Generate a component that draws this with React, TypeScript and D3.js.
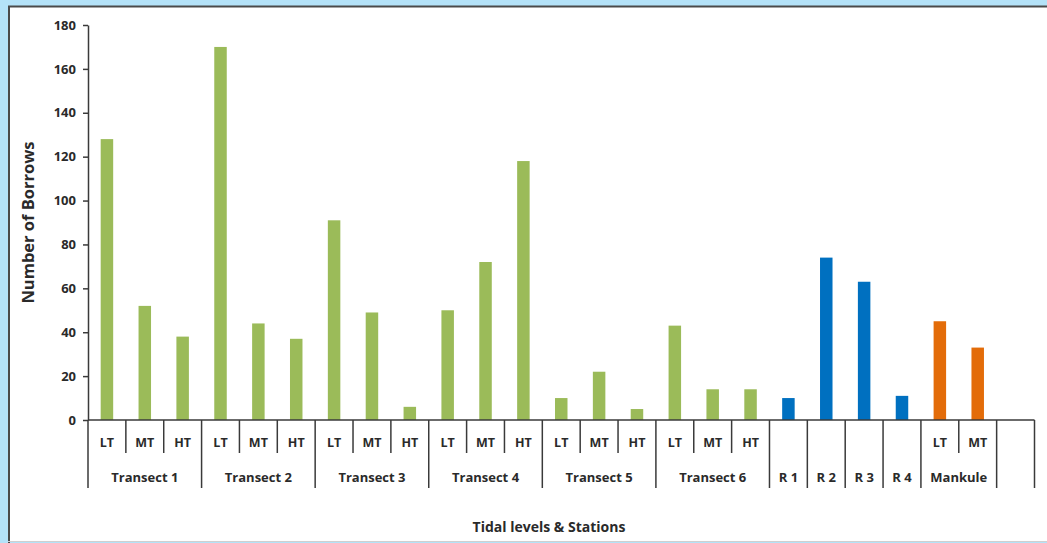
import { useEffect, useRef } from "react";
import * as d3 from "d3";

// station groups along the x axis (last one is the empty slot at the end)
const groups = [
  "Transect 1",
  "Transect 2",
  "Transect 3",
  "Transect 4",
  "Transect 5",
  "Transect 6",
  "R 1",
  "R 2",
  "R 3",
  "R 4",
  "Mankule",
  "",
];

const tidal = ["LT", "MT", "HT"];

// tidal levels inside each group
const groupLevels = [
  tidal,
  tidal,
  tidal,
  tidal,
  tidal,
  tidal,
  [""],
  [""],
  [""],
  [""],
  ["LT", "MT"],
  [""],
];

// kind of station, decides the bar colour
const groupKind = [
  "transect",
  "transect",
  "transect",
  "transect",
  "transect",
  "transect",
  "reference",
  "reference",
  "reference",
  "reference",
  "mankule",
  "none",
];

// number of burrows, one value per slot
const burrows = [
  128, 52, 38,
  170, 44, 37,
  91, 49, 6,
  50, 72, 118,
  10, 22, 5,
  43, 14, 14,
  10, 74, 63, 11,
  45, 33,
  null,
];

const yTicks = [0, 20, 40, 60, 80, 100, 120, 140, 160, 180];

const kindColor: Record<string, string> = {
  transect: "#9bbb59",
  reference: "#0070c0",
  mankule: "#e36c09",
  none: "none",
};

const W = 1047;
const H = 543;
const font = "'Open Sans', Lato, sans-serif";
const ink = "#2a2a2a";

export default function App() {
  const svgRef = useRef<SVGSVGElement>(null);

  useEffect(() => {
    if (!svgRef.current) return;
    const svg = d3.select(svgRef.current);
    svg.selectAll("*").remove();

    // page background and white panel
    svg.append("rect").attr("width", W).attr("height", H).attr("fill", "#b4e2f8");
    svg
      .append("rect")
      .attr("x", 8)
      .attr("y", 6)
      .attr("width", W)
      .attr("height", 535)
      .attr("fill", "#ffffff");
    svg
      .append("path")
      .attr("d", `M9,${H} V6.5 H${W}`)
      .attr("fill", "none")
      .attr("stroke", "#4a4a4a")
      .attr("stroke-width", 2);
    svg
      .append("line")
      .attr("x1", 8)
      .attr("x2", W)
      .attr("y1", 541.5)
      .attr("y2", 541.5)
      .attr("stroke", "#d0d0d0");

    const left = 88;
    const right = 1034.5;
    const top = 25;
    const bottom = 420;

    // flatten slots
    const slots: { key: string; gi: number; li: number; level: string; value: number | null; kind: string }[] = [];
    let k = 0;
    groups.forEach((g, gi) => {
      groupLevels[gi].forEach((level, li) => {
        slots.push({ key: `${gi}-${li}`, gi, li, level, value: burrows[k], kind: groupKind[gi] });
        k++;
      });
    });

    const x = d3
      .scaleBand()
      .domain(slots.map((s) => s.key))
      .range([left, right])
      .paddingInner(0.67)
      .paddingOuter(0.335);
    const step = x.step();
    const bw = x.bandwidth();
    const center = (key: string) => (x(key) as number) + bw / 2;

    const y = d3.scaleLinear().domain([0, 180]).range([bottom, top]);

    // bars
    svg
      .append("g")
      .selectAll("rect")
      .data(slots.filter((s) => s.value != null))
      .enter()
      .append("rect")
      .attr("x", (d) => x(d.key) as number)
      .attr("width", bw)
      .attr("y", (d) => y(d.value as number))
      .attr("height", (d) => y(0) - y(d.value as number))
      .attr("fill", (d) => kindColor[d.kind]);

    // y axis
    const yAxis = svg
      .append("g")
      .attr("transform", `translate(${left},0)`)
      .call(d3.axisLeft(y).tickValues(yTicks).tickSize(5).tickPadding(7).tickSizeOuter(0));
    yAxis.select(".domain").attr("stroke", "#3a3a3a").attr("stroke-width", 1.5);
    yAxis.selectAll(".tick line").attr("stroke", "#3a3a3a").attr("stroke-width", 1.5);
    yAxis
      .selectAll(".tick text")
      .attr("font-family", font)
      .attr("font-weight", "bold")
      .attr("font-size", 13)
      .attr("fill", ink);

    // x axis baseline
    svg
      .append("line")
      .attr("x1", left)
      .attr("x2", right)
      .attr("y1", bottom)
      .attr("y2", bottom)
      .attr("stroke", "#3a3a3a")
      .attr("stroke-width", 1.5);

    const lineColor = "#3a3a3a";
    const innerBottom = 453;
    const groupBottom = 488;

    // separators between tidal levels inside a group
    svg
      .append("g")
      .selectAll("line")
      .data(slots.filter((s) => s.li > 0))
      .enter()
      .append("line")
      .attr("x1", (d) => center(d.key) - step / 2)
      .attr("x2", (d) => center(d.key) - step / 2)
      .attr("y1", bottom)
      .attr("y2", innerBottom)
      .attr("stroke", lineColor)
      .attr("stroke-width", 1.5);

    // group boundaries
    const firstOfGroup = slots.filter((s) => s.li === 0);
    const boundaries = firstOfGroup.map((s) => center(s.key) - step / 2).concat([right]);
    svg
      .append("g")
      .selectAll("line")
      .data(boundaries)
      .enter()
      .append("line")
      .attr("x1", (d) => d)
      .attr("x2", (d) => d)
      .attr("y1", bottom)
      .attr("y2", groupBottom)
      .attr("stroke", lineColor)
      .attr("stroke-width", 1.5);

    // tidal level labels
    svg
      .append("g")
      .selectAll("text")
      .data(slots.filter((s) => s.level !== ""))
      .enter()
      .append("text")
      .attr("x", (d) => center(d.key))
      .attr("y", 443)
      .attr("dy", "0.35em")
      .attr("text-anchor", "middle")
      .attr("font-family", font)
      .attr("font-weight", "bold")
      .attr("font-size", 12.5)
      .attr("fill", ink)
      .text((d) => d.level);

    // group labels
    svg
      .append("g")
      .selectAll("text")
      .data(groups.map((g, gi) => ({ g, gi })).filter((d) => d.g !== ""))
      .enter()
      .append("text")
      .attr("x", (d) => {
        const members = slots.filter((s) => s.gi === d.gi);
        return (center(members[0].key) + center(members[members.length - 1].key)) / 2;
      })
      .attr("y", 477)
      .attr("dy", "0.35em")
      .attr("text-anchor", "middle")
      .attr("font-family", font)
      .attr("font-weight", "bold")
      .attr("font-size", 13)
      .attr("fill", ink)
      .text((d) => d.g);

    // axis titles
    svg
      .append("text")
      .attr("x", 549)
      .attr("y", 527)
      .attr("dy", "0.35em")
      .attr("text-anchor", "middle")
      .attr("font-family", font)
      .attr("font-weight", "bold")
      .attr("font-size", 14)
      .attr("fill", ink)
      .text("Tidal levels & Stations");

    svg
      .append("text")
      .attr("transform", `translate(28,${(top + bottom) / 2}) rotate(-90)`)
      .attr("dy", "0.35em")
      .attr("text-anchor", "middle")
      .attr("font-family", font)
      .attr("font-weight", "bold")
      .attr("font-size", 16.5)
      .attr("fill", ink)
      .text("Number of Borrows");
  }, []);

  return (
    <svg
      ref={svgRef}
      width={W}
      height={H}
      style={{ position: "fixed", left: 0, top: 0, display: "block" }}
    ></svg>
  );
}
